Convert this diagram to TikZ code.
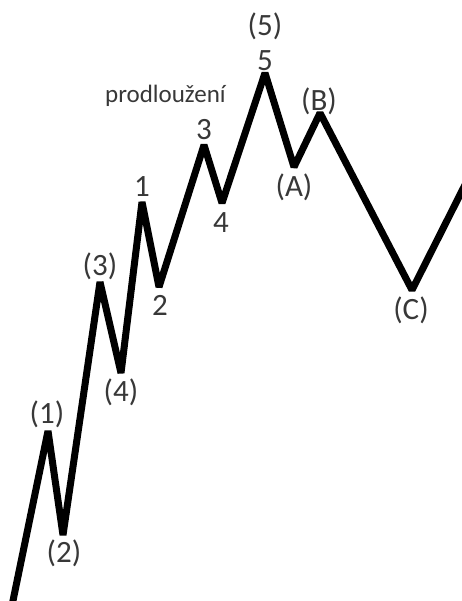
\documentclass[tikz,border=0pt]{standalone}
\usepackage{fontspec}
\setmainfont{Carlito}
\begin{document}
\begin{tikzpicture}[x=1pt,y=-1pt,
  wave/.style={line width=7pt,line join=bevel,black},
  lbl/.style={inner sep=0pt,text=black!78,font=\fontsize{31}{33}\selectfont},
  ext/.style={inner sep=0pt,text=black!78,font=\fontsize{25}{27}\selectfont}]
\useasboundingbox (0,0) rectangle (462,601);
\begin{scope}
\clip (0,0) rectangle (462,601);
\coordinate (s) at (9,620);
\coordinate (w1) at (48,431);
\coordinate (w2) at (63,535);
\coordinate (w3) at (100,282);
\coordinate (w4) at (121,373);
\coordinate (e1) at (142,202);
\coordinate (e2) at (159,287);
\coordinate (e3) at (204,145);
\coordinate (e4) at (222,203);
\coordinate (e5) at (265,73);
\coordinate (a) at (294,167);
\coordinate (b) at (320,113);
\coordinate (c) at (412,290);
\coordinate (t) at (475,165);
\draw[wave] (s) -- (w1) -- (w2) -- (w3) -- (w4) -- (e1) -- (e2) -- (e3) -- (e4) -- (e5) -- (a) -- (b) -- (c) -- (t);
\end{scope}
\node[lbl] (l1) at (47,414) {(1)};
\node[lbl] (l2) at (64,553) {(2)};
\node[lbl] (l3) at (100,266) {(3)};
\node[lbl] (l4) at (121,392) {(4)};
\node[lbl] (m1) at (142,187) {1};
\node[lbl] (m2) at (160,305) {2};
\node[lbl] (m3) at (204,130) {3};
\node[lbl] (m4) at (221,223) {4};
\node[lbl] (m5) at (265,61) {5};
\node[lbl] (l5) at (265,26) {(5)};
\node[lbl] (la) at (294,187) {(A)};
\node[lbl] (lb) at (319,101) {(B)};
\node[lbl] (lc) at (411,310) {(C)};
\node[ext,anchor=base west] (pr) at (105,103) {prodloužení};
\end{tikzpicture}
\end{document}
